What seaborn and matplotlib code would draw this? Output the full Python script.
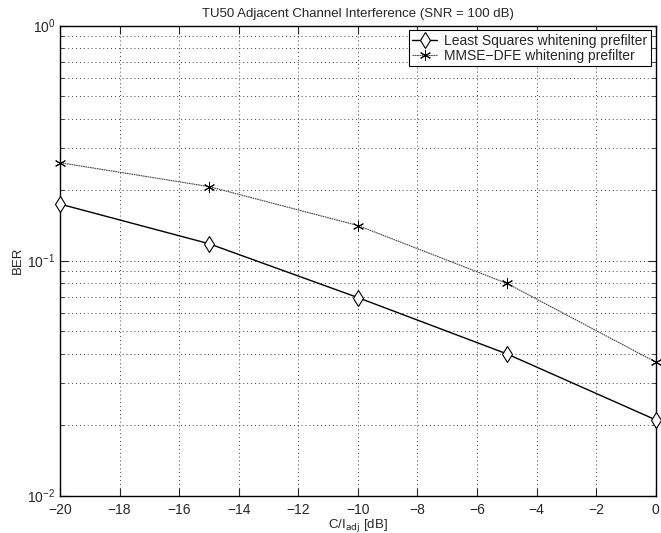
import numpy as np
import pandas as pd
import matplotlib
matplotlib.use("Agg")
import matplotlib.pyplot as plt
import seaborn as sns

# Data
CI_DB = [-20, -15, -10, -5, 0]
BER_LS = [0.174, 0.118, 0.0696, 0.0401, 0.0210]
BER_MMSE = [0.261, 0.2065, 0.141, 0.080, 0.037]
LABEL_LS = "Least Squares whitening prefilter"
LABEL_MMSE = "MMSE\u2212DFE whitening prefilter"

sns.set_style("ticks")
plt.rcParams['font.family'] = ['Liberation Sans', 'DejaVu Sans']
plt.rcParams['font.size'] = 9

df_ls = pd.DataFrame({'CI': CI_DB, 'BER': BER_LS})
df_mmse = pd.DataFrame({'CI': CI_DB, 'BER': BER_MMSE})

fig = plt.figure(figsize=(6.61, 5.33), dpi=100)
ax = fig.add_axes([0.0908, 0.0702, 0.9012, 0.8818])

sns.lineplot(data=df_ls, x='CI', y='BER', ax=ax, color='black', linewidth=1.0,
             marker='d', markersize=8, markerfacecolor='white', markeredgecolor='black',
             markeredgewidth=0.8, label=LABEL_LS, clip_on=False, zorder=3)
sns.lineplot(data=df_mmse, x='CI', y='BER', ax=ax, color='#444444', linewidth=0.8,
             linestyle=(0, (1.5, 0.6)), marker=(6, 2, 0), markersize=8,
             markeredgecolor='black', markeredgewidth=0.7, label=LABEL_MMSE,
             clip_on=False, zorder=3)

ax.set_yscale('log')
ax.set_xlim(-20, 0)
ax.set_ylim(1e-2, 1e0)
ax.set_xticks(np.arange(-20, 1, 2))
ax.set_xticklabels([f"\u2212{-v}" if v < 0 else str(v) for v in range(-20, 1, 2)])

grid_kw = dict(linestyle=(0, (1, 3)), color='black', linewidth=0.7, alpha=0.75)
ax.grid(True, which='major', **grid_kw)
ax.grid(True, which='minor', axis='y', **grid_kw)
ax.tick_params(which='both', direction='in', top=True, right=True, labelsize=10)
ax.tick_params(which='major', length=6)
ax.tick_params(which='minor', length=3)
ax.tick_params(axis='x', pad=5)
for s in ax.spines.values():
    s.set_linewidth(1.0)
    s.set_color('black')

ax.set_title("TU50 Adjacent Channel Interference (SNR = 100 dB)", fontsize=9.5, pad=6)
ax.set_xlabel(r"C/I$_{\mathrm{adj}}$ [dB]", fontsize=9.5, labelpad=0)
ax.set_ylabel("BER", fontsize=9.5, labelpad=2)

leg = ax.legend(loc='upper right', fontsize=10, frameon=True, fancybox=False,
                edgecolor='black', framealpha=1, borderaxespad=0.35,
                handlelength=1.8, handletextpad=0.5, borderpad=0.25, labelspacing=0.05)
leg.get_frame().set_linewidth(0.8)

fig.savefig("out.png", dpi=100)
